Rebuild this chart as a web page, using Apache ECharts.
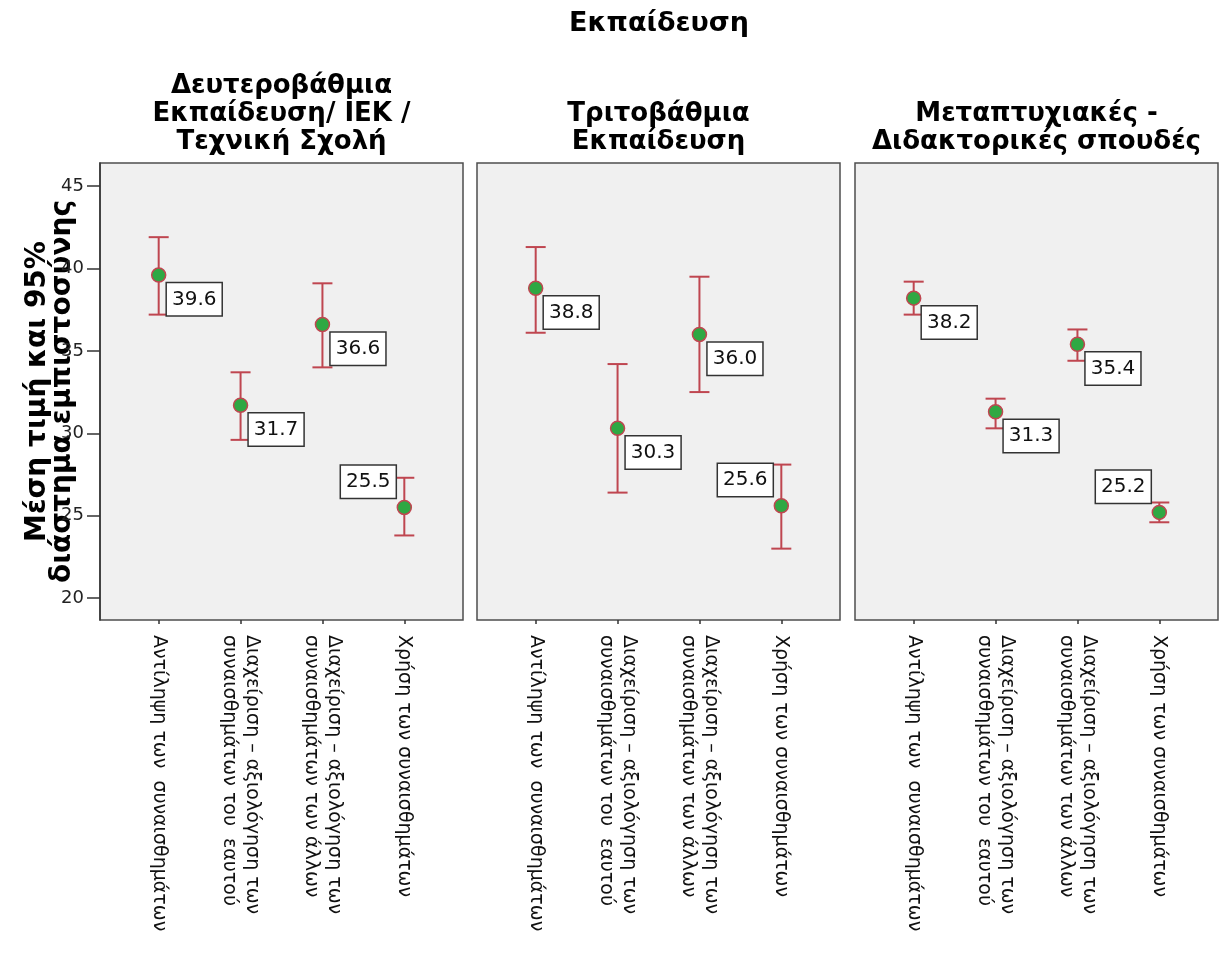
<!DOCTYPE html>
<html>
<head>
<meta charset="utf-8">
<script src="https://cdn.jsdelivr.net/npm/echarts@6/dist/echarts.min.js"></script>
<style>
  html, body { margin: 0; padding: 0; background: #ffffff; }
  #chart { width: 1222px; height: 976px; }
</style>
</head>
<body>
<div id="chart"></div>
<script>
// Emotional-intelligence factor means with 95% confidence intervals, by education level
const categories = [
  'Αντίληψη των  συναισθημάτων',
  'Διαχείριση – αξιολόγηση των\nσυναισθημάτων του  εαυτού',
  'Διαχείριση – αξιολόγηση των\nσυναισθημάτων των άλλων',
  'Χρήση των συναισθημάτων'
];
const groupTitles = [
  'Δευτεροβάθμια\nΕκπαίδευση/ ΙΕΚ /\nΤεχνική Σχολή',
  'Τριτοβάθμια\nΕκπαίδευση',
  'Μεταπτυχιακές -\nΔιδακτορικές σπουδές'
];
const mainTitle = 'Εκπαίδευση';
const yAxisTitle = 'Μέση τιμή και 95%\nδιάστημα εμπιστοσύνης';

const meanSecondary = [39.6, 31.7, 36.6, 25.5];
const lowSecondary  = [37.2, 29.6, 34.0, 23.8];
const highSecondary = [41.9, 33.7, 39.1, 27.3];

const meanTertiary = [38.8, 30.3, 36.0, 25.6];
const lowTertiary  = [36.1, 26.4, 32.5, 23.0];
const highTertiary = [41.3, 34.2, 39.5, 28.1];

const meanPostgrad = [38.2, 31.3, 35.4, 25.2];
const lowPostgrad  = [37.2, 30.3, 34.4, 24.6];
const highPostgrad = [39.2, 32.1, 36.3, 25.8];

const yTicks = [20, 25, 30, 35, 40, 45];

// ---- layout ----
const panels = [
  { mean: meanSecondary, low: lowSecondary, high: highSecondary },
  { mean: meanTertiary,  low: lowTertiary,  high: highTertiary },
  { mean: meanPostgrad,  low: lowPostgrad,  high: highPostgrad }
];
const panelLeft = [100, 477, 855];
const panelWidth = 363;
const panelTop = 163;
const panelHeight = 457;
const innerPad = 17.75;          // category band inset inside each panel frame
const yMin = 18.67, yMax = 46.4;

const FONT = 'DejaVu Sans';
const barColor = '#bf4650';
const dotColor = '#2fa843';

const grid = [], xAxis = [], yAxis = [], series = [], title = [];

title.push({
  text: mainTitle,
  left: (panelLeft[0] + panelLeft[2] + panelWidth) / 2,
  textAlign: 'center',
  top: 10,
  padding: 0,
  textStyle: { fontFamily: FONT, fontSize: 27, fontWeight: 'bold', color: '#000' }
});

panels.forEach((p, i) => {
  const outer = grid.length;
  grid.push({
    left: panelLeft[i], top: panelTop, width: panelWidth, height: panelHeight,
    show: true, backgroundColor: '#f0f0f0', borderColor: '#4d4d4d', borderWidth: 1.5
  });
  const inner = grid.length;
  grid.push({
    left: panelLeft[i] + innerPad, top: panelTop,
    width: panelWidth - 2 * innerPad, height: panelHeight
  });

  // frame axes (value scale shown only on the first panel)
  xAxis.push({ gridIndex: outer, type: 'value', show: false });
  yAxis.push({
    gridIndex: outer, type: 'value', min: yMin, max: yMax, show: i === 0,
    name: i === 0 ? yAxisTitle : '',
    nameLocation: 'middle', nameGap: 25, nameMoveOverlap: false,
    nameTextStyle: { fontFamily: FONT, fontSize: 28, fontWeight: 'bold', color: '#000', lineHeight: 25 },
    axisLine: { show: true, lineStyle: { color: '#333', width: 1.5 } },
    axisTick: { show: true, length: 13, customValues: yTicks, lineStyle: { color: '#333', width: 1.5 } },
    axisLabel: { customValues: yTicks, fontFamily: FONT, fontSize: 18, color: '#222', margin: 16 },
    splitLine: { show: false }
  });

  // category axes carrying the marks
  const xi = xAxis.length;
  xAxis.push({
    gridIndex: inner, type: 'category', data: categories, boundaryGap: true,
    axisLine: { show: false },
    axisTick: { show: true, alignWithLabel: true, length: 4, lineStyle: { color: '#333', width: 1.5 } },
    axisLabel: {
      rotate: -90, interval: 0, margin: 15,
      fontFamily: FONT, fontSize: 19, lineHeight: 23, color: '#111'
    }
  });
  const yi = yAxis.length;
  yAxis.push({ gridIndex: inner, type: 'value', min: yMin, max: yMax, show: false });

  // 95% CI whiskers
  series.push({
    type: 'custom',
    xAxisIndex: xi, yAxisIndex: yi,
    data: categories.map((c, j) => [j, p.low[j], p.high[j]]),
    renderItem: (params, api) => {
      const x = api.value(0);
      const lo = api.coord([x, api.value(1)]);
      const hi = api.coord([x, api.value(2)]);
      const w = 10;
      const style = { stroke: barColor, lineWidth: 2 };
      return {
        type: 'group',
        children: [
          { type: 'line', shape: { x1: lo[0], y1: lo[1], x2: hi[0], y2: hi[1] }, style },
          { type: 'line', shape: { x1: lo[0] - w, y1: lo[1], x2: lo[0] + w, y2: lo[1] }, style },
          { type: 'line', shape: { x1: hi[0] - w, y1: hi[1], x2: hi[0] + w, y2: hi[1] }, style }
        ]
      };
    },
    z: 2
  });

  // means with value boxes
  const labelBase = {
    show: true,
    formatter: (d) => d.value[1].toFixed(1),
    fontFamily: FONT, fontSize: 20, lineHeight: 24, color: '#111',
    backgroundColor: '#ffffff', borderColor: '#333', borderWidth: 1.5,
    padding: [4, 5, 4, 5]
  };
  series.push({
    type: 'scatter',
    xAxisIndex: xi, yAxisIndex: yi,
    symbol: 'circle', symbolSize: 14,
    itemStyle: { color: dotColor, borderColor: barColor, borderWidth: 1.5, opacity: 1 },
    data: p.mean.map((v, j) => {
      const last = j === categories.length - 1;
      return {
        value: [j, v],
        label: Object.assign({}, labelBase, last
          ? { position: [-1, -2], align: 'right', verticalAlign: 'bottom' }
          : { position: [16, 16], align: 'left', verticalAlign: 'top' })
      };
    }),
    z: 3
  });

  title.push({
    text: groupTitles[i],
    left: panelLeft[i] + panelWidth / 2,
    textAlign: 'center',
    bottom: 976 - 156,
    padding: 0,
    textStyle: { fontFamily: FONT, fontSize: 26, fontWeight: 'bold', color: '#000', lineHeight: 28 }
  });
});

const chart = echarts.init(document.getElementById('chart'), null, { renderer: 'canvas' });
chart.setOption({
  animation: false,
  backgroundColor: '#ffffff',
  title, grid, xAxis, yAxis, series
});
</script>
</body>
</html>
